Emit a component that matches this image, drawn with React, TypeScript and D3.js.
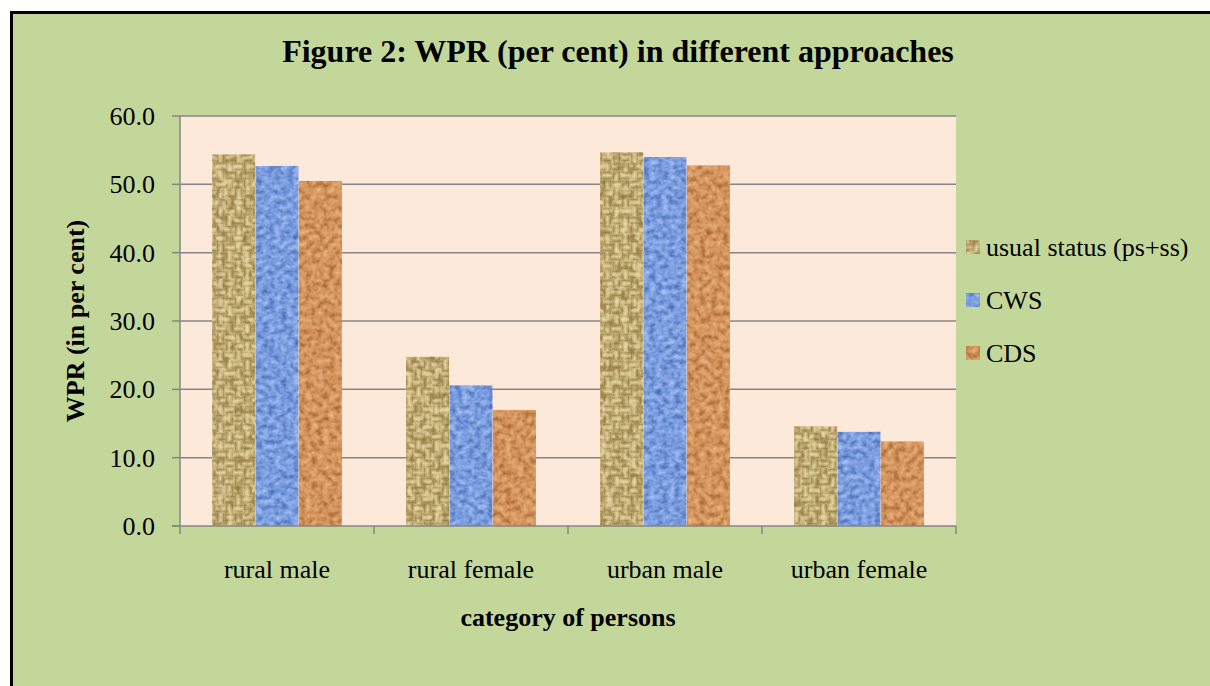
import React, { useEffect, useRef } from 'react';
import * as d3 from 'd3';

const categories = ['rural male', 'rural female', 'urban male', 'urban female'];
const seriesNames = ['usual status (ps+ss)', 'CWS', 'CDS'];
const usualStatus = [54.4, 24.8, 54.7, 14.6];
const cws = [52.7, 20.6, 54.0, 13.8];
const cds = [50.5, 17.0, 52.8, 12.4];
const yTicks = [0, 10, 20, 30, 40, 50, 60];

const App: React.FC = () => {
  const svgRef = useRef<SVGSVGElement>(null);

  useEffect(() => {
    if (svgRef.current == null) return;
    const width = 1210;
    const height = 686;
    const plot = { left: 180, right: 956, top: 116, bottom: 526 };
    const font = '"Liberation Serif", "Times New Roman", serif';
    const values = [usualStatus, cws, cds];

    const svg = d3.select(svgRef.current)
      .attr('width', width)
      .attr('height', height);
    svg.selectAll('*').remove();

    const defs = svg.append('defs');

    // textures: base colour + weave/noise
    const textures = [
      { id: 'tex0', base: '#c8b27c', dark: '#8a743a', light: '#eee0ae', freq: '0.14 0.14', weave: true },
      { id: 'tex1', base: '#7b9de0', dark: '#3b5fa8', light: '#b4ccf6', freq: '0.16 0.2', weave: false },
      { id: 'tex2', base: '#d5955c', dark: '#9a5a28', light: '#efbd8e', freq: '0.17 0.17', weave: false }
    ];

    textures.forEach((t, i) => {
      const f = defs.append('filter')
        .attr('id', `noise${i}`)
        .attr('x', 0).attr('y', 0).attr('width', 1).attr('height', 1)
        .attr('color-interpolation-filters', 'sRGB');
      f.append('feTurbulence')
        .attr('type', 'fractalNoise')
        .attr('baseFrequency', t.freq)
        .attr('numOctaves', 2)
        .attr('seed', i + 3)
        .attr('result', 'n');
      f.append('feColorMatrix')
        .attr('in', 'n')
        .attr('type', 'matrix')
        .attr('values', '0 0 0 0 0  0 0 0 0 0  0 0 0 0 0  2.2 0 0 0 -1.1')
        .attr('result', 'darkA');
      f.append('feFlood').attr('flood-color', t.dark).attr('result', 'dk');
      f.append('feComposite').attr('in', 'dk').attr('in2', 'darkA').attr('operator', 'in').attr('result', 'darkSpots');
      f.append('feColorMatrix')
        .attr('in', 'n')
        .attr('type', 'matrix')
        .attr('values', '0 0 0 0 0  0 0 0 0 0  0 0 0 0 0  -2.2 0 0 0 1.1')
        .attr('result', 'lightA');
      f.append('feFlood').attr('flood-color', t.light).attr('result', 'lt');
      f.append('feComposite').attr('in', 'lt').attr('in2', 'lightA').attr('operator', 'in').attr('result', 'lightSpots');
      const m = f.append('feMerge').attr('result', 'merged');
      m.append('feMergeNode').attr('in', 'SourceGraphic');
      m.append('feMergeNode').attr('in', 'darkSpots');
      m.append('feMergeNode').attr('in', 'lightSpots');
      f.append('feComposite').attr('in', 'merged').attr('in2', 'SourceGraphic').attr('operator', 'in');

      const p = defs.append('pattern')
        .attr('id', t.id)
        .attr('patternUnits', 'userSpaceOnUse')
        .attr('width', 18).attr('height', 18);
      p.append('rect').attr('width', 18).attr('height', 18).attr('fill', t.base);
      if (t.weave) {
        // basket weave blocks
        const g = p.append('g').attr('stroke-width', 1.6);
        [[0, 0, 'h'], [9, 9, 'h'], [9, 0, 'v'], [0, 9, 'v']].forEach(([x, y, dir]) => {
          for (let k = 0; k < 3; k++) {
            const off = 1.5 + k * 3;
            const col = k === 1 ? t.light : t.dark;
            if (dir === 'h') {
              g.append('line').attr('x1', +x).attr('x2', +x + 9).attr('y1', +y + off).attr('y2', +y + off)
                .attr('stroke', col).attr('stroke-opacity', 0.5);
            } else {
              g.append('line').attr('y1', +y).attr('y2', +y + 9).attr('x1', +x + off).attr('x2', +x + off)
                .attr('stroke', col).attr('stroke-opacity', 0.5);
            }
          }
        });
      }
    });

    // frame
    svg.append('rect').attr('width', width).attr('height', height).attr('fill', '#ffffff');
    svg.append('rect')
      .attr('x', 11.5).attr('y', 12.5)
      .attr('width', width + 20).attr('height', height + 20)
      .attr('fill', '#c4d79b')
      .attr('stroke', '#000000')
      .attr('stroke-width', 3);

    const x0 = d3.scaleBand<string>()
      .domain(categories)
      .range([plot.left, plot.right])
      .paddingInner(0)
      .paddingOuter(0);
    const x1 = d3.scaleBand<string>()
      .domain(seriesNames)
      .range([0, x0.bandwidth()])
      .paddingOuter(0.74)
      .paddingInner(0);
    const y = d3.scaleLinear().domain([0, 60]).range([plot.bottom, plot.top]);

    // plot area
    svg.append('rect')
      .attr('x', plot.left).attr('y', plot.top)
      .attr('width', plot.right - plot.left).attr('height', plot.bottom - plot.top)
      .attr('fill', '#fde9d9');

    // gridlines
    svg.append('g').selectAll('line')
      .data(yTicks.filter(d => d > 0))
      .join('line')
      .attr('x1', plot.left).attr('x2', plot.right)
      .attr('y1', d => y(d)).attr('y2', d => y(d))
      .attr('stroke', '#868686')
      .attr('stroke-width', 1.5);

    // bars
    seriesNames.forEach((s, si) => {
      const g = svg.append('g').attr('filter', `url(#noise${si})`);
      g.selectAll('rect')
        .data(categories.map((c, ci) => ({ c, v: values[si][ci] })))
        .join('rect')
        .attr('x', d => (x0(d.c) ?? 0) + (x1(s) ?? 0))
        .attr('y', d => y(d.v))
        .attr('width', x1.bandwidth())
        .attr('height', d => y(0) - y(d.v))
        .attr('fill', `url(#tex${si})`);
    });

    // axes
    const axisColor = '#868686';
    svg.append('line')
      .attr('x1', plot.left).attr('x2', plot.left)
      .attr('y1', plot.top).attr('y2', plot.bottom)
      .attr('stroke', axisColor).attr('stroke-width', 1.5);
    svg.append('line')
      .attr('x1', plot.left - 8).attr('x2', plot.right)
      .attr('y1', plot.bottom).attr('y2', plot.bottom)
      .attr('stroke', axisColor).attr('stroke-width', 1.5);

    svg.append('g').selectAll('line')
      .data(yTicks)
      .join('line')
      .attr('x1', plot.left - 8).attr('x2', plot.left)
      .attr('y1', d => y(d)).attr('y2', d => y(d))
      .attr('stroke', axisColor).attr('stroke-width', 1.5);

    const xTickPos = categories.map(c => x0(c) ?? 0).concat([plot.right]);
    svg.append('g').selectAll('line')
      .data(xTickPos)
      .join('line')
      .attr('x1', d => d).attr('x2', d => d)
      .attr('y1', plot.bottom).attr('y2', plot.bottom + 8)
      .attr('stroke', axisColor).attr('stroke-width', 1.5);

    svg.append('g').selectAll('text')
      .data(yTicks)
      .join('text')
      .attr('x', 155)
      .attr('y', d => y(d) + 9)
      .attr('text-anchor', 'end')
      .style('font-family', font)
      .style('font-size', '26px')
      .style('fill', '#000')
      .text(d => d.toFixed(1));

    svg.append('g').selectAll('text')
      .data(categories)
      .join('text')
      .attr('x', d => (x0(d) ?? 0) + x0.bandwidth() / 2)
      .attr('y', 578)
      .attr('text-anchor', 'middle')
      .style('font-family', font)
      .style('font-size', '26px')
      .style('fill', '#000')
      .text(d => d);

    // titles
    svg.append('text')
      .attr('x', 618).attr('y', 62)
      .attr('text-anchor', 'middle')
      .style('font-family', font)
      .style('font-size', '32px')
      .style('font-weight', 'bold')
      .text('Figure 2: WPR (per cent) in different approaches');

    svg.append('text')
      .attr('x', (plot.left + plot.right) / 2).attr('y', 626)
      .attr('text-anchor', 'middle')
      .style('font-family', font)
      .style('font-size', '26px')
      .style('font-weight', 'bold')
      .text('category of persons');

    svg.append('text')
      .attr('transform', `translate(84,${(plot.top + plot.bottom) / 2}) rotate(-90)`)
      .attr('text-anchor', 'middle')
      .style('font-family', font)
      .style('font-size', '26px')
      .style('font-weight', 'bold')
      .text('WPR (in per cent)');

    // legend
    const legendY = d3.scalePoint<string>().domain(seriesNames).range([247, 353]);
    const lg = svg.append('g');
    seriesNames.forEach((s, si) => {
      const cy = legendY(s) ?? 0;
      lg.append('rect')
        .attr('x', 966).attr('y', cy - 7)
        .attr('width', 14).attr('height', 14)
        .attr('fill', `url(#tex${si})`)
        .attr('filter', `url(#noise${si})`);
      lg.append('text')
        .attr('x', 986).attr('y', cy + 9)
        .style('font-family', font)
        .style('font-size', '26px')
        .text(s);
    });
  }, []);

  return (
    <div style={{ position: 'absolute', left: 0, top: 0 }}>
      <svg ref={svgRef} style={{ display: 'block' }}></svg>
    </div>
  );
};

export default App;
